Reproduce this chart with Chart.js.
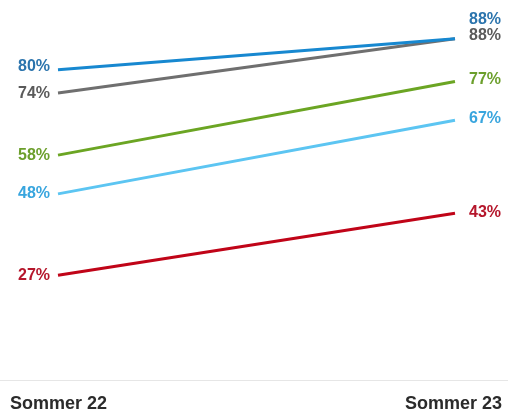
<!DOCTYPE html>
<html lang="de">
<head>
    <meta charset="UTF-8">
    <title>Sommer 22 vs Sommer 23</title>
    <style>
        html, body { margin: 0; padding: 0; background: #fff; }
        #wrap { width: 508px; height: 414px; position: relative; }
    </style>
</head>
<body>
<div id="wrap">
    <canvas id="slopeChart" width="508" height="414"></canvas>
</div>

<script src="https://cdn.jsdelivr.net/npm/chart.js"></script>
<script>
    // periods on the x axis
    const periods = ["Sommer 22", "Sommer 23"];

    // one small array per series (percent)
    const blueValues  = [80, 88];
    const greyValues  = [74, 88];
    const greenValues = [58, 77];
    const skyValues   = [48, 67];
    const redValues   = [27, 43];

    // line colour + label colour for each series
    const series = [
        { data: blueValues,  line: "#1788d0", text: "#2b74ad" },
        { data: greyValues,  line: "#6f6f6f", text: "#5a5a5a" },
        { data: greenValues, line: "#6ba523", text: "#6c9f2c" },
        { data: skyValues,   line: "#5cc5f2", text: "#38a5de" },
        { data: redValues,   line: "#c00418", text: "#b5162b" }
    ];

    // vertical nudges for the right-hand labels (so the two 88% don't overlap)
    const rightShift = [-19, -3, -2, -2, -1];
    const leftShift  = [-3, 1, 0, 0, 0];

    // draws the value labels, the base line and the period names
    const labelPlugin = {
        id: "slopeLabels",
        afterDatasetsDraw(chart) {
            const ctx = chart.ctx;
            const area = chart.chartArea;
            ctx.save();

            // thin base line
            ctx.strokeStyle = "#e6e6e6";
            ctx.lineWidth = 1;
            ctx.beginPath();
            ctx.moveTo(0, area.bottom + 0.5);
            ctx.lineTo(chart.width, area.bottom + 0.5);
            ctx.stroke();

            ctx.font = "bold 16px 'Liberation Sans', Arial, sans-serif";
            ctx.textBaseline = "middle";
            chart.data.datasets.forEach((ds, i) => {
                const pts = chart.getDatasetMeta(i).data;
                ctx.fillStyle = series[i].text;
                ctx.textAlign = "right";
                ctx.fillText(ds.data[0] + "%", pts[0].x - 8, pts[0].y + leftShift[i]);
                ctx.textAlign = "left";
                ctx.fillText(ds.data[1] + "%", pts[1].x + 14, pts[1].y + rightShift[i]);
            });

            // period names under the base line
            ctx.font = "bold 18px 'Liberation Sans', Arial, sans-serif";
            ctx.fillStyle = "#2b2b2b";
            ctx.textAlign = "left";
            ctx.fillText(periods[0], 10, area.bottom + 24);
            ctx.textAlign = "right";
            ctx.fillText(periods[1], chart.width - 6, area.bottom + 24);
            ctx.restore();
        }
    };

    const slopeChart = new Chart(document.getElementById("slopeChart"), {
        type: "line",
        data: {
            labels: periods,
            datasets: series.map(s => ({
                data: s.data,
                borderColor: s.line,
                borderWidth: 3,
                pointRadius: 0,
                fill: false,
                tension: 0
            }))
        },
        options: {
            responsive: false,
            animation: false,
            layout: { padding: { left: 58, right: 53, top: 0, bottom: 34 } },
            plugins: {
                legend: { display: false },
                tooltip: { enabled: false }
            },
            scales: {
                x: { display: false, offset: false },
                y: { display: false, min: 0, max: 98 }
            }
        },
        plugins: [labelPlugin]
    });
</script>
</body>
</html>
